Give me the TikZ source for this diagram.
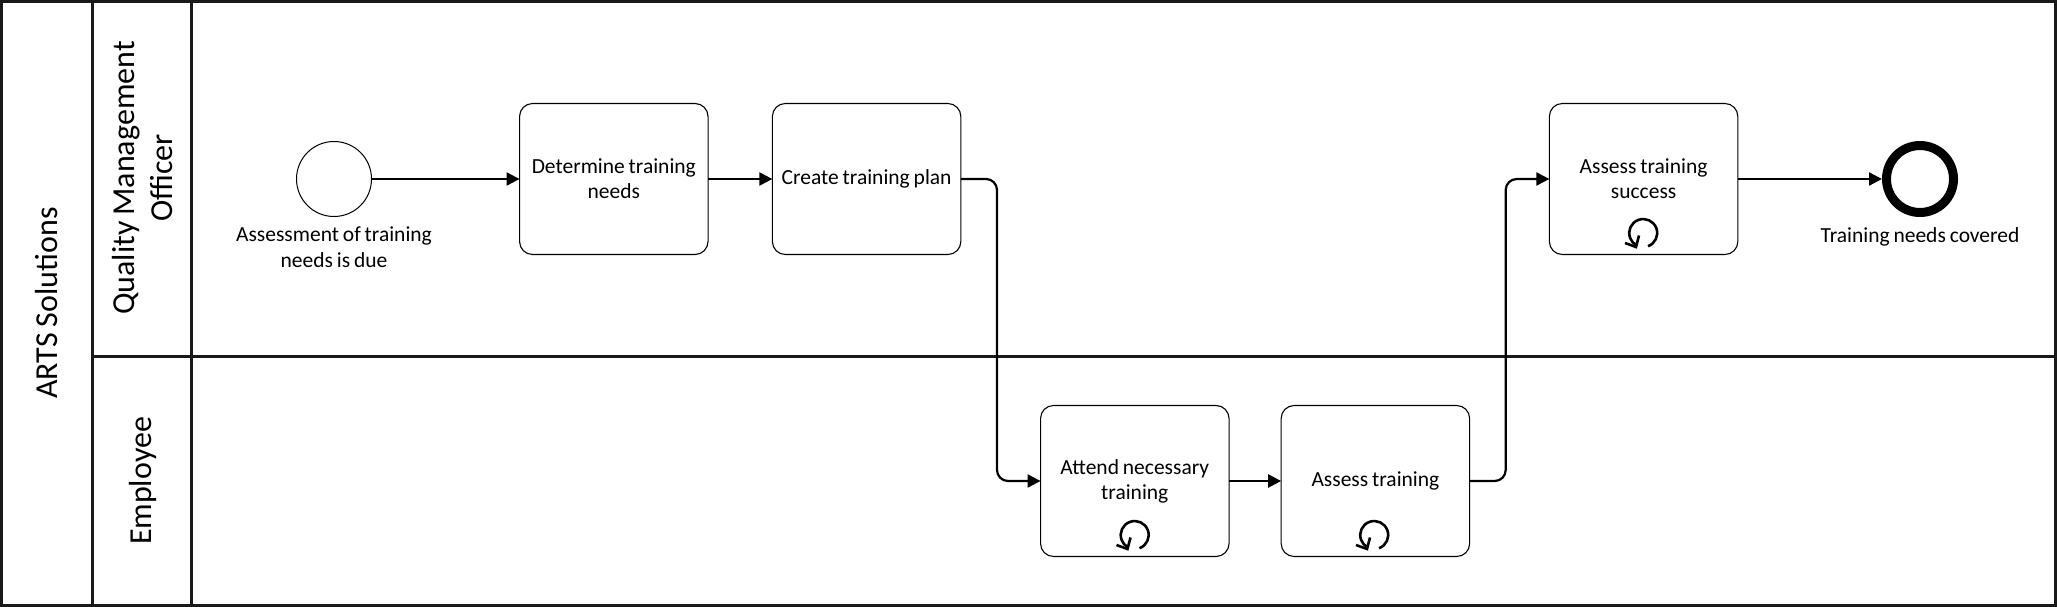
\documentclass[tikz,border=0pt]{standalone}
\usepackage{fontspec}
\setmainfont[WordSpace=0.8]{Carlito}
\usetikzlibrary{arrows.meta,calc}
\tikzset{
  lanerule/.style={line width=3pt,draw=black!90},
  task/.style={draw=black,line width=1.1pt,rounded corners=13pt,minimum width=188.5pt,minimum height=151pt,inner sep=0pt,outer sep=0pt,align=center,font=\fontsize{21.5}{25}\selectfont},
  startev/.style={circle,draw=black,line width=1pt,minimum size=75pt,inner sep=0pt,outer sep=0pt},
  endev/.style={circle,draw=black,line width=9pt,minimum size=67pt,inner sep=0pt,outer sep=4.5pt},
  evlabel/.style={align=center,font=\fontsize{21.5}{25.5}\selectfont,inner sep=0pt},
  flow/.style={line width=2.2pt,-{Triangle[length=13pt,width=13pt]},rounded corners=11pt},
  lanetext/.style={rotate=90,align=center,font=\fontsize{32}{38}\selectfont,inner sep=0pt},
  loopline/.style={line width=2.6pt,draw=black}
}
\newcommand{\loopicon}[1]{%
  \draw[loopline] ($(#1)+(5,13.2)$) arc[start angle=70,end angle=-240,radius=14];
  \draw[loopline] ($(#1)+(-18,10)$) -- ($(#1)+(-7,14)$) -- ($(#1)+(-4,2.5)$);
}
\begin{document}
\begin{tikzpicture}[x=1pt,y=-1pt]
\useasboundingbox (0,0) rectangle (2057,607);
\fill[white] (0,0) rectangle (2057,607);
% pool and lanes
\draw[lanerule] (1.5,1.5) rectangle (2055,605.5);
\draw[lanerule] (92.5,1.5) -- (92.5,605.5);
\draw[lanerule] (191,1.5) -- (191,605.5);
\draw[lanerule] (92.5,356) -- (2055,356);
\node[lanetext] (pool) at (47,303) {ARTS Solutions};
\node[lanetext] (qmo) at (142.5,178) {Quality Management\\Officer};
\node[lanetext] (emp) at (143,481) {Employee};
% events and tasks
\node[startev] (start) at (334,179) {};
\node[evlabel,anchor=north] (startl) at (334,227) {Assessment of training\\needs is due};
\node[task] (det) at (613.8,179) {Determine training\\needs};
\node[task] (cre) at (866.6,179) {Create training plan};
\node[task] (att) at (1134.8,481) {Attend necessary\\training};
\node[task] (ass) at (1375.4,481) {Assess training};
\node[task] (suc) at (1643.6,179) {Assess training\\success};
\node[endev] (end) at (1920,179) {};
\node[evlabel,anchor=north] (endl) at (1920,227) {Training needs covered};
% loop markers
\coordinate (la) at (1134.5,535);
\coordinate (lb) at (1374,535);
\coordinate (lc) at (1643,233);
\loopicon{la}\loopicon{lb}\loopicon{lc}
% flows
\coordinate (b1) at (997,300);
\coordinate (b2) at (1505.7,300);
\draw[flow] (start.east) -- (det.west);
\draw[flow] (det.east) -- (cre.west);
\draw[flow] (cre.east) -| (b1) |- (att.west);
\draw[flow] (att.east) -- (ass.west);
\draw[flow] (ass.east) -| (b2) |- (suc.west);
\draw[flow] (suc.east) -- (end.west);
\end{tikzpicture}
\end{document}
